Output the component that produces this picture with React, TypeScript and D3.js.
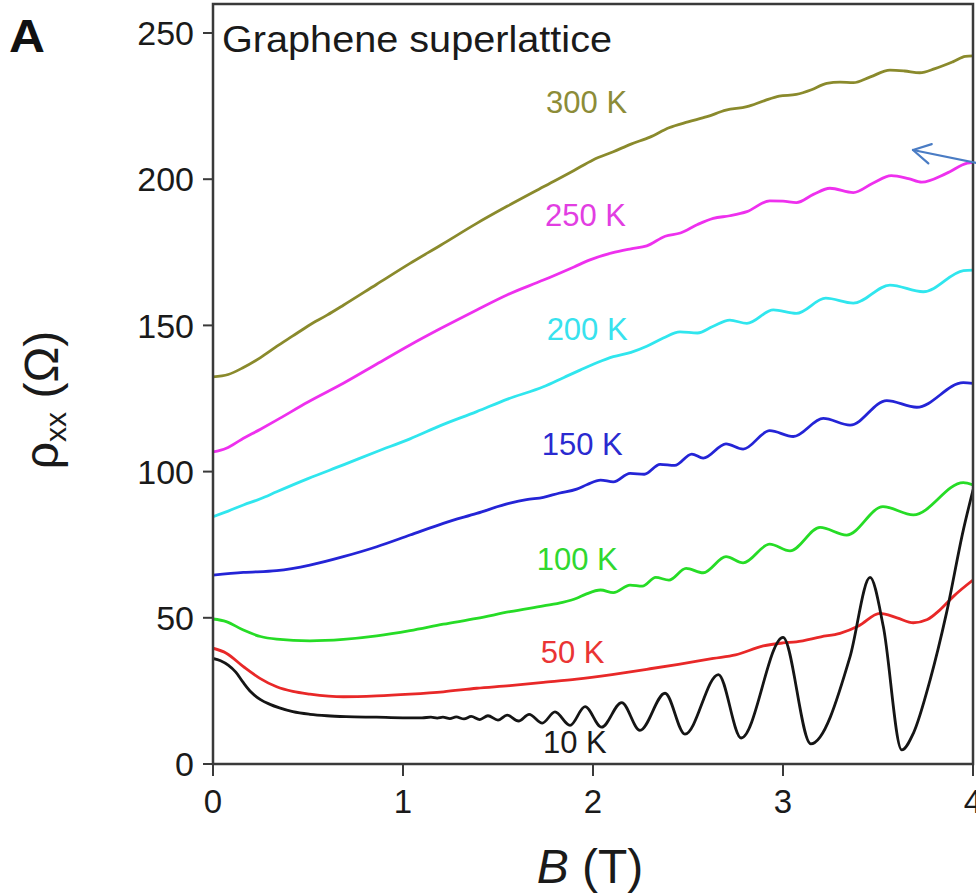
import React from 'react';
import * as d3 from 'd3';

// Axis ticks
const xTicks = [0, 1, 2, 3, 4];
const yTicks = [0, 50, 100, 150, 200, 250];

// rho_xx (Ohm) versus B (T), one list per temperature: [B, rho]
const rho300K: [number, number][] = [
  [0, 132.4], [0.08, 133.2], [0.16, 135.6], [0.25, 139.0], [0.335, 142.8], [0.42, 146.4],
  [0.5, 149.8], [0.6, 153.5], [0.686, 156.9], [0.86, 164.0], [1.037, 171.2], [1.2, 177.5],
  [1.388, 184.9], [1.55, 190.8], [1.739, 197.4], [1.9, 203.0], [2.0, 206.6], [2.107, 209.4],
  [2.2, 212.0], [2.3, 214.4], [2.4, 217.6], [2.5, 219.6], [2.6, 221.4], [2.7, 223.6],
  [2.81, 224.8], [2.9, 226.8], [2.98, 228.4], [3.07, 229.0], [3.15, 230.6], [3.23, 232.8],
  [3.3, 233.2], [3.37, 233.0], [3.46, 235.0], [3.563, 237.3], [3.64, 237.0], [3.72, 236.4],
  [3.8, 237.8], [3.896, 240.2], [3.96, 242.0], [4.0, 242.2],
];
const rho250K: [number, number][] = [
  [0, 106.7], [0.07, 108.0], [0.15, 111.0], [0.25, 114.5], [0.335, 117.6], [0.5, 123.8],
  [0.686, 130.2], [0.86, 136.7], [1.037, 143.3], [1.2, 149.0], [1.388, 155.3], [1.55, 160.5],
  [1.739, 165.5], [1.9, 170.0], [1.984, 172.4], [2.1, 174.8], [2.2, 176.2], [2.283, 177.2],
  [2.38, 180.5], [2.46, 181.6], [2.55, 184.5], [2.633, 186.6], [2.72, 187.5], [2.81, 188.9],
  [2.93, 192.6], [3.0, 192.5], [3.07, 192.0], [3.16, 194.8], [3.247, 196.9], [3.37, 195.4],
  [3.47, 198.5], [3.57, 201.2], [3.66, 200.2], [3.73, 199.0], [3.86, 202.0], [3.97, 205.5],
  [4.0, 205.8],
];
const rho200K: [number, number][] = [
  [0, 84.6], [0.08, 86.5], [0.16, 88.6], [0.25, 90.7], [0.335, 93.1], [0.5, 97.6],
  [0.686, 102.3], [0.86, 106.8], [1.037, 111.2], [1.2, 115.8], [1.388, 120.5], [1.55, 124.8],
  [1.739, 129.0], [1.85, 132.3], [1.932, 134.7], [2.02, 137.2], [2.107, 139.3], [2.2, 140.8],
  [2.283, 142.9], [2.37, 145.7], [2.458, 147.8], [2.55, 147.4], [2.63, 149.6], [2.72, 151.8],
  [2.81, 150.7], [2.949, 155.3], [3.07, 154.1], [3.225, 159.3], [3.37, 157.6], [3.563, 163.8],
  [3.738, 161.5], [3.95, 168.7], [4.0, 168.9],
];
const rho150K: [number, number][] = [
  [0, 64.6], [0.16, 65.5], [0.335, 66.1], [0.51, 68.0], [0.686, 70.9], [0.862, 74.3],
  [1.037, 78.3], [1.212, 82.3], [1.388, 85.7], [1.563, 89.2], [1.65, 90.4], [1.739, 91.2],
  [1.82, 92.6], [1.914, 94.0], [1.97, 95.6], [2.04, 97.1], [2.107, 96.5], [2.195, 99.4],
  [2.27, 99.1], [2.353, 102.5], [2.43, 102.1], [2.52, 106.0], [2.58, 104.6], [2.7, 109.5],
  [2.79, 107.7], [2.93, 114.0], [3.054, 112.0], [3.212, 118.2], [3.353, 115.9], [3.546, 124.3],
  [3.704, 122.0], [3.949, 130.4], [4.0, 130.2],
];
const rho100K: [number, number][] = [
  [0, 49.6], [0.07, 48.7], [0.16, 45.8], [0.25, 43.6], [0.335, 42.7], [0.51, 42.1],
  [0.686, 42.6], [0.862, 43.8], [1.037, 45.6], [1.212, 47.8], [1.388, 49.8], [1.563, 52.1],
  [1.739, 54.1], [1.84, 55.3], [1.914, 56.7], [1.96, 58.0], [2.04, 59.5], [2.107, 58.6],
  [2.195, 61.2], [2.26, 60.8], [2.33, 63.8], [2.4, 62.9], [2.49, 66.9], [2.58, 65.4],
  [2.7, 70.9], [2.79, 68.8], [2.93, 75.2], [3.037, 72.9], [3.195, 80.9], [3.335, 78.3],
  [3.526, 88.0], [3.686, 85.2], [3.949, 96.2], [4.0, 95.4],
];
const rho50K: [number, number][] = [
  [0, 39.6], [0.07, 37.9], [0.16, 33.3], [0.247, 29.3], [0.335, 26.4], [0.42, 24.8],
  [0.51, 23.9], [0.686, 23.0], [0.862, 23.3], [1.037, 23.9], [1.212, 24.7], [1.388, 25.9],
  [1.563, 26.8], [1.739, 27.9], [1.914, 29.0], [2.1, 30.6], [2.283, 32.4], [2.45, 34.1],
  [2.633, 36.1], [2.75, 37.3], [2.896, 40.4], [3.0, 41.4], [3.07, 41.8], [3.2, 43.5],
  [3.3, 44.7], [3.4, 47.3], [3.51, 51.5], [3.6, 50.0], [3.686, 48.3], [3.76, 49.4],
  [3.826, 52.7], [3.9, 57.5], [4.0, 62.9],
];
const rho10K: [number, number][] = [
  [0, 36.1], [0.04, 35.3], [0.08, 33.8], [0.12, 31.4], [0.16, 27.8], [0.2, 24.6],
  [0.25, 22.0], [0.3, 20.4], [0.35, 19.2], [0.42, 17.9], [0.51, 17.0], [0.6, 16.5],
  [0.7, 16.2], [0.86, 16.0], [1.0, 15.8], [1.1, 15.8], [1.147, 16.0], [1.18, 15.7],
  [1.21, 16.0], [1.247, 15.5], [1.28, 16.1], [1.321, 15.4], [1.359, 16.3], [1.404, 15.2],
  [1.447, 16.5], [1.5, 15.0], [1.548, 16.7], [1.608, 14.7], [1.664, 17.0], [1.733, 14.0],
  [1.8, 17.8], [1.879, 13.2], [1.958, 19.6], [2.045, 12.6], [2.151, 21.0], [2.247, 11.5],
  [2.379, 24.2], [2.484, 10.2], [2.66, 30.6], [2.78, 8.9], [3.0, 43.3], [3.146, 6.9],
  [3.353, 36.7], [3.458, 63.8], [3.528, 47.0], [3.625, 4.8], [3.686, 10.5], [3.774, 28.7],
  [3.86, 51.5], [3.949, 80.0], [4.0, 93.7],
];

// Temperatures, drawing colours and label anchors (in data units: B, rho)
const temperatures = ['300 K', '250 K', '200 K', '150 K', '100 K', '50 K', '10 K'];
const datasets = [rho300K, rho250K, rho200K, rho150K, rho100K, rho50K, rho10K];
const lineColors = ['#8a8a2c', '#ee30ee', '#30e6ee', '#2424d6', '#26dc26', '#e82828', '#151515'];
const labelColors = ['#8c8c38', '#e23ee2', '#38e2ee', '#2a2ad0', '#30d830', '#ea3434', '#1a1a1a'];
const labelAnchors: [number, number][] = [
  [1.753, 222.6], [1.747, 184.0], [1.756, 145.0], [1.73, 105.7], [1.704, 66.3], [1.725, 34.5], [1.737, 3.8],
];

const W = 976;
const H = 894;
const FONT = '"Liberation Sans", Arial, Helvetica, sans-serif';

export default function App() {
  const x = d3.scaleLinear().domain([0, 4]).range([213, 973]);
  const y = d3.scaleLinear().domain([0, 250]).range([764, 33]);
  const line = d3
    .line<[number, number]>()
    .x((d) => x(d[0]))
    .y((d) => y(d[1]))
    .curve(d3.curveMonotoneX);

  const x0 = x(0);
  const x1 = x(4);
  const yb = y(0);
  const yt = 4;

  // annotation arrow (data units)
  const tip: [number, number] = [3.684, 210.0];
  const tail: [number, number] = [4.02, 205.5];
  const armUp: [number, number] = [3.783, 212.0];
  const armDown: [number, number] = [3.765, 205.4];

  return (
    <svg
      width={W}
      height={H}
      viewBox={`0 0 ${W} ${H}`}
      style={{ position: 'absolute', left: 0, top: 0, background: '#fff' }}
      fontFamily={FONT}
    >
      <rect x={0} y={0} width={W} height={H} fill="#fff" />

      <defs>
        <clipPath id="plot-clip">
          <rect x={x0} y={yt} width={x1 - x0} height={yb - yt} />
        </clipPath>
      </defs>

      {/* curves */}
      <g clipPath="url(#plot-clip)">
        {datasets.map((d, i) => (
          <path
            key={temperatures[i]}
            d={line(d) || ''}
            fill="none"
            stroke={lineColors[i]}
            strokeWidth={2.8}
            strokeLinejoin="round"
            strokeLinecap="round"
          />
        ))}
      </g>

      {/* frame */}
      <rect x={x0} y={yt} width={x1 - x0} height={yb - yt} fill="none" stroke="#3a3a3a" strokeWidth={2.5} />

      {/* y ticks */}
      {yTicks.map((t) => (
        <g key={`y${t}`}>
          <line x1={x0 - 10} x2={x0} y1={y(t)} y2={y(t)} stroke="#3a3a3a" strokeWidth={2} />
          <text x={x0 - 19} y={y(t)} dy="0.36em" textAnchor="end" fontSize={34} fill="#1a1a1a">
            {t}
          </text>
        </g>
      ))}

      {/* x ticks */}
      {xTicks.map((t) => (
        <g key={`x${t}`}>
          <line x1={x(t)} x2={x(t)} y1={yb} y2={yb + 12} stroke="#3a3a3a" strokeWidth={2} />
          <text x={x(t)} y={813} textAnchor="middle" fontSize={33} fill="#1a1a1a">
            {t}
          </text>
        </g>
      ))}

      {/* curve labels */}
      {temperatures.map((t, i) => (
        <text
          key={`lab${t}`}
          x={x(labelAnchors[i][0])}
          y={y(labelAnchors[i][1])}
          fontSize={31}
          fill={labelColors[i]}
        >
          {t}
        </text>
      ))}

      {/* title and panel letter */}
      <text x={222} y={52} fontSize={37} fill="#1a1a1a" textLength={390} lengthAdjust="spacingAndGlyphs">
        Graphene superlattice
      </text>
      <text x={9} y={52} fontSize={46} fontWeight="bold" fill="#111" textLength={36} lengthAdjust="spacingAndGlyphs">
        A
      </text>

      {/* axis titles */}
      <text x={590} y={883} textAnchor="middle" fontSize={48} fill="#1a1a1a">
        <tspan fontStyle="italic">B</tspan>
        <tspan> (T)</tspan>
      </text>
      <text transform="translate(58,400) rotate(-90)" textAnchor="middle" fontSize={48} fill="#1a1a1a">
        <tspan>ρ</tspan>
        <tspan fontSize={30} dy={8}>xx</tspan>
        <tspan dy={-8}> (Ω)</tspan>
      </text>

      {/* annotation arrow */}
      <g stroke="#4a7cc4" strokeWidth={2.2} fill="none" strokeLinecap="round" strokeLinejoin="round">
        <line x1={x(tail[0])} y1={y(tail[1])} x2={x(tip[0])} y2={y(tip[1])} />
        <polyline
          points={`${x(armUp[0])},${y(armUp[1])} ${x(tip[0])},${y(tip[1])} ${x(armDown[0])},${y(armDown[1])}`}
        />
      </g>
    </svg>
  );
}
